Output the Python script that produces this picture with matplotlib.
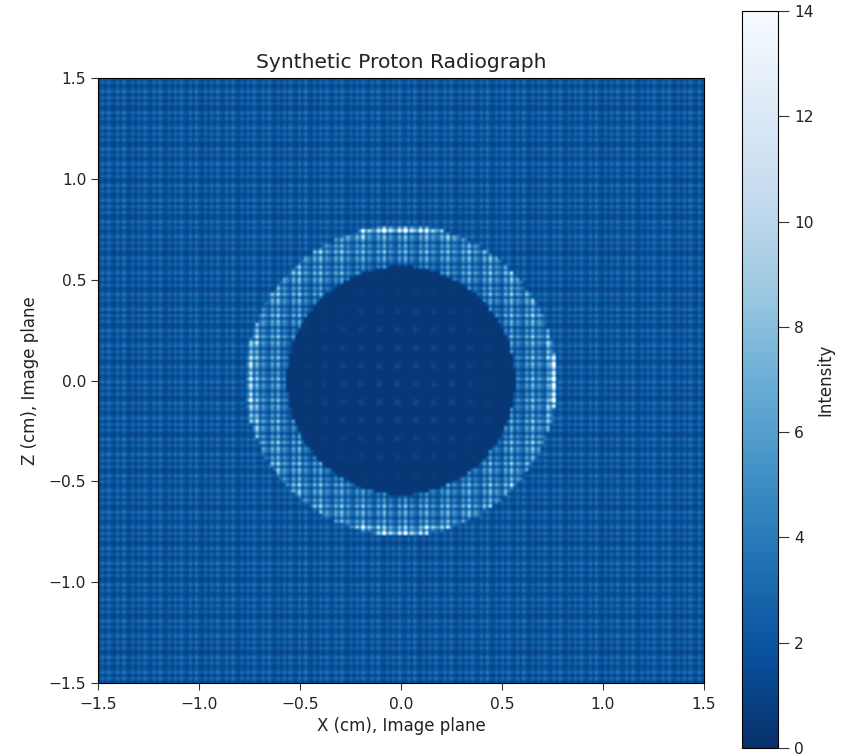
#!/usr/bin/env python3
import matplotlib
matplotlib.use('Agg')
import matplotlib.pyplot as plt
import numpy as np

# cells are not readable one by one: the image is built from tiles and
# radial levels estimated by eye from the reference
n_bins = 200
extent = [-1.5, 1.5, -1.5, 1.5]

# background weave, one repeat across the cells
bg_tile_x = [0.66, 1.18, 0.74, 1.30, 0.84, 0.66, 1.24, 0.70, 1.36, 0.80, 0.64, 1.14]
bg_tile_z = [0.68, 1.22, 0.66, 1.34, 0.86, 0.64, 1.16, 0.74, 1.34, 0.72, 0.62, 1.20]
bg_level = 2.3

# hole in the middle: faint dots on a dark floor
hole_tile = [0.0, 0.0, 1.0, 0.6, 0.0, 0.0]
hole_floor = 0.42
hole_dot_r = [0.15, 0.30, 0.42, 0.50, 0.60]
hole_dot_amp = [1.3, 1.1, 0.8, 0.35, 0.05]

# bright ring, level by radius
ring_r = [0.565, 0.60, 0.64, 0.68, 0.72, 0.745, 0.77]
ring_level = [3.5, 3.9, 4.1, 4.3, 4.5, 4.8, 5.0]
ring_tile_x = [0.52, 1.30, 0.66, 1.62, 0.58, 1.10, 0.74]
ring_tile_z = [1.28, 0.60, 1.50, 0.70, 1.16, 0.56, 1.06]
# brightness of the outer rim per 7.5 degree sector from the axis
rim_sector = [1.7, 1.35, 1.1, 1.0, 1.0, 1.05]

cbar_ticks = [0, 2, 4, 6, 8, 10, 12, 14]
axis_ticks = [-1.5, -1.0, -0.5, 0.0, 0.5, 1.0, 1.5]

edges = np.linspace(-1.5, 1.5, n_bins + 1)
centers = (edges[:-1] + edges[1:]) / 2
xx, zz = np.meshgrid(centers, centers)
ii, jj = np.meshgrid(np.arange(n_bins), np.arange(n_bins))
rr = np.hypot(xx, zz)
angle = np.degrees(np.arctan2(np.abs(zz), np.abs(xx)))
angle = np.minimum(angle, 90 - angle)

intensity = bg_level * np.array(bg_tile_x)[ii % len(bg_tile_x)] * np.array(bg_tile_z)[jj % len(bg_tile_z)]

# hole
amp = np.array(hole_dot_amp)[np.clip(np.searchsorted(hole_dot_r, rr), 0, len(hole_dot_amp) - 1)]
hole_vals = hole_floor + amp * np.array(hole_tile)[ii % len(hole_tile)] * np.array(hole_tile)[jj % len(hole_tile)]
in_hole = rr < ring_r[0]
intensity[in_hole] = hole_vals[in_hole]

# ring
in_ring = (rr >= ring_r[0]) & (rr < ring_r[-1])
level = np.array(ring_level)[np.clip(np.searchsorted(ring_r, rr) - 1, 0, len(ring_level) - 1)]
ring_vals = level * np.array(ring_tile_x)[ii % len(ring_tile_x)] * np.array(ring_tile_z)[jj % len(ring_tile_z)]
sector = np.array(rim_sector)[np.clip((angle / 7.5).astype(int), 0, len(rim_sector) - 1)]
ring_vals = np.where(rr > 0.735, ring_vals * sector, ring_vals)
intensity[in_ring] = ring_vals[in_ring]

fig = plt.figure(figsize=(8.41, 7.56), dpi=100)
ax = fig.add_axes([98 / 841, 1 - 683 / 756, 606 / 841, 605 / 756])
im = ax.imshow(intensity, origin='lower', extent=extent, cmap='Blues_r', vmin=0, vmax=14,
               interpolation='bilinear', aspect='auto')
ax.set_xticks(axis_ticks)
ax.set_yticks(axis_ticks)
ax.tick_params(labelsize=11.2, length=5, color='#333333', labelcolor='#222222')
ax.tick_params(axis='x', pad=5)
ax.set_xlabel('X (cm), Image plane', fontsize=12, color='#222222', labelpad=4)
ax.set_ylabel('Z (cm), Image plane', fontsize=12, color='#222222', labelpad=7)
ax.set_title('Synthetic Proton Radiograph', fontsize=14.6, color='#222222', pad=7)

cax = fig.add_axes([742 / 841, 1 - 748 / 756, 36 / 841, 737 / 756])
cbar = fig.colorbar(im, cax=cax, ticks=cbar_ticks)
cbar.ax.tick_params(labelsize=11.2, length=8, color='#333333', labelcolor='#222222')
cbar.set_label('Intensity', fontsize=12, color='#222222', labelpad=2)

fig.savefig('out.png', dpi=100)
